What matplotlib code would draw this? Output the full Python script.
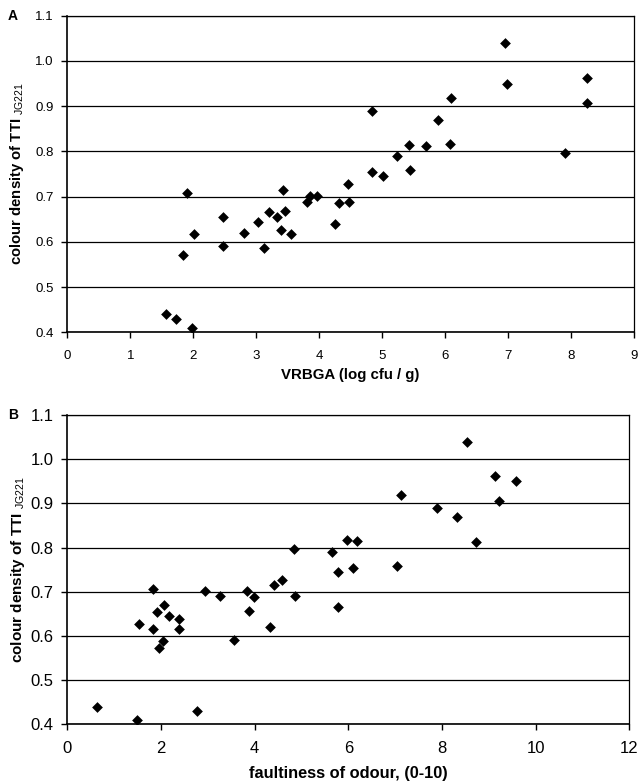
import matplotlib
matplotlib.use("Agg")
import matplotlib.pyplot as plt

plt.rcParams['font.family'] = ['Liberation Sans', 'DejaVu Sans']
plt.rcParams['mathtext.fontset'] = 'custom'
plt.rcParams['mathtext.rm'] = 'Liberation Sans'

# panel A: VRBGA count vs colour density
vrbga = [1.57, 1.73, 1.98, 1.83, 1.90, 2.01, 2.48, 2.47, 2.81, 3.03,
         3.12, 3.21, 3.33, 3.39, 3.42, 3.46, 3.55, 3.80, 3.85, 3.96,
         4.25, 4.32, 4.46, 4.48, 4.84, 4.84, 5.02, 5.24, 5.43, 5.44,
         5.70, 5.88, 6.09, 6.08, 6.95, 6.99, 7.90, 8.25, 8.26]
density_a = [0.440, 0.429, 0.410, 0.570, 0.707, 0.617, 0.654, 0.590, 0.620, 0.644,
             0.587, 0.666, 0.655, 0.626, 0.714, 0.669, 0.617, 0.689, 0.702, 0.702,
             0.640, 0.686, 0.728, 0.689, 0.890, 0.754, 0.745, 0.790, 0.815, 0.759,
             0.812, 0.870, 0.919, 0.817, 1.040, 0.950, 0.796, 0.963, 0.906]

# panel B: odour faultiness score vs colour density
odour = [0.63, 1.49, 2.76, 1.54, 1.84, 1.84, 1.91, 2.06, 1.95, 2.04,
         2.17, 2.39, 2.39, 2.93, 3.27, 3.55, 3.83, 3.89, 3.98, 4.33,
         4.42, 4.59, 4.83, 4.86, 5.66, 5.77, 5.78, 5.98, 6.09, 6.19,
         7.04, 7.12, 7.90, 8.33, 8.73, 8.54, 9.13, 9.21, 9.58]
density_b = [0.440, 0.410, 0.430, 0.627, 0.707, 0.616, 0.655, 0.669, 0.572, 0.588,
             0.644, 0.639, 0.616, 0.702, 0.690, 0.590, 0.702, 0.656, 0.687, 0.620,
             0.715, 0.727, 0.796, 0.690, 0.790, 0.745, 0.666, 0.817, 0.753, 0.815,
             0.759, 0.920, 0.890, 0.870, 0.813, 1.040, 0.963, 0.906, 0.950]

yticks = [0.4, 0.5, 0.6, 0.7, 0.8, 0.9, 1.0, 1.1]
ylab = r'colour density of TTI $_{\rm JG221}$'

W, H = 642, 782
fig = plt.figure(figsize=(W / 100, H / 100), dpi=100)


def px_axes(l, t, r, b):
    return fig.add_axes([l / W, 1 - b / H, (r - l) / W, (b - t) / H])


def style(ax, xs, ys, xmax, xstep, tick_fs, xlab_fs, ylab_fs, xlabel, letter,
          xpad, lpad):
    ax.scatter(xs, ys, marker='D', s=30, color='black', zorder=3, linewidths=0)
    ax.set_xlim(0, xmax)
    ax.set_ylim(0.4, 1.1)
    ax.set_xticks(range(0, xmax + 1, xstep))
    ax.set_yticks(yticks)
    ax.set_yticklabels(['%.1f' % v for v in yticks])
    ax.yaxis.grid(True, color='black', lw=0.9)
    ax.set_axisbelow(True)
    for sp in ax.spines.values():
        sp.set_linewidth(1.2)
    ax.spines['top'].set_linewidth(0.9)
    ax.spines['right'].set_linewidth(0.9)
    ax.tick_params(direction='out', length=4, width=1, labelsize=tick_fs, pad=6)
    ax.tick_params(axis='x', pad=xpad)
    ax.set_xlabel(xlabel, fontsize=xlab_fs, fontweight='bold', labelpad=lpad)
    ax.set_ylabel(ylab, fontsize=ylab_fs, fontweight='bold')
    # anchor sits at the right edge of the rotated label
    ax.yaxis.set_label_coords(-0.072, 0.5)
    ax.text(-0.097, 1.0, letter, transform=ax.transAxes, fontsize=10,
            fontweight='bold', ha='center', va='center')


ax1 = px_axes(67.3, 15.7, 634, 332.3)
style(ax1, vrbga, density_a, 9, 1, 9.5, 10.8, 10.7,
      'VRBGA (log cfu / g)', 'A', 9, 4)

ax2 = px_axes(67.3, 415, 629.3, 724.3)
style(ax2, odour, density_b, 12, 2, 12, 11.8, 11,
      'faultiness of odour, (0-10)', 'B', 8, 7)

fig.savefig('out.png', dpi=100)
